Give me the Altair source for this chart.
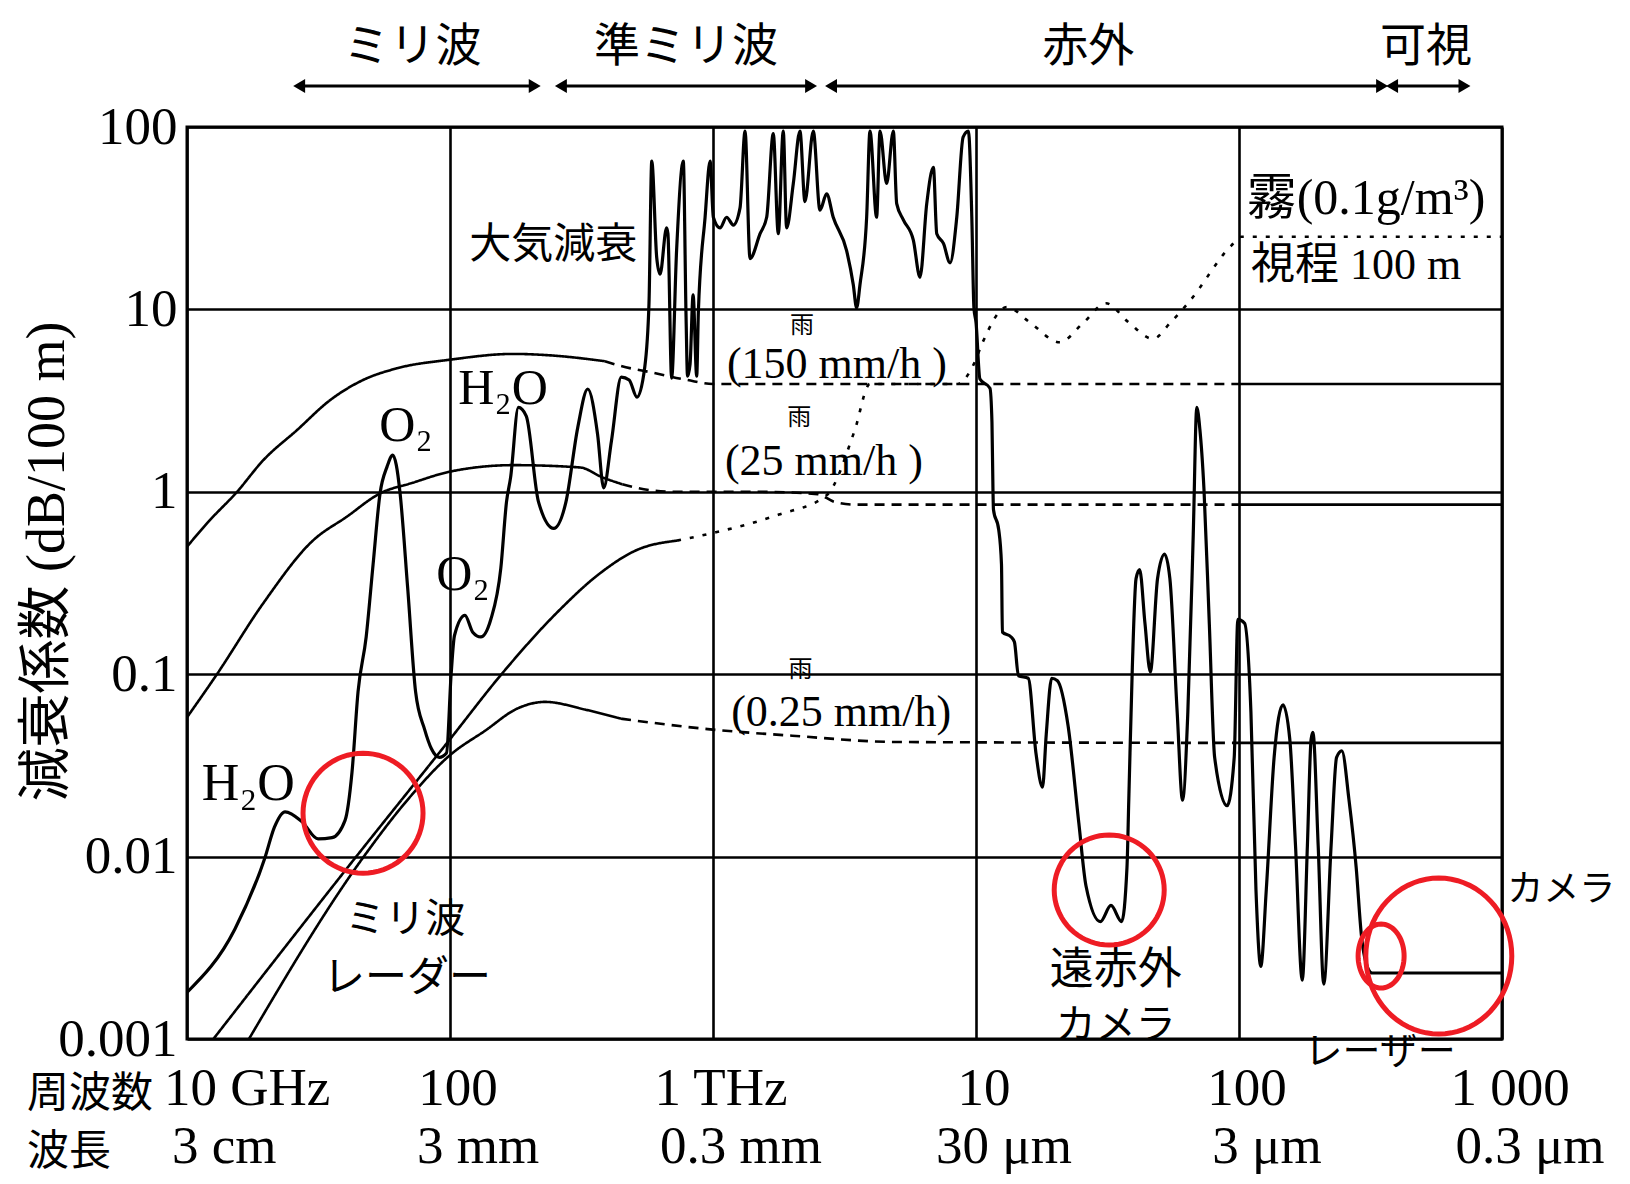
import math
import altair as alt
import pandas as pd

# ---------------- data: frequency (GHz) and attenuation (dB/100 m) ----------------
atm_f = [10, 15.2, 19.8, 21.5, 23.6, 27.4, 31.5, 35.6, 39.9, 42.4, 44.7, 48, 51, 54.2, 57.6, 60.6,
         62.5, 64.6, 69, 74, 80, 85, 91, 97, 101, 104, 114, 122, 131, 143, 156, 164, 170, 182, 195,
         217, 248, 276, 306, 334, 364, 384, 411, 448, 480, 514, 550, 571, 585, 611, 629, 666, 674,
         696, 727, 771, 790, 800, 818, 840, 867, 880, 933, 975, 1003, 1063, 1127, 1195, 1267, 1324,
         1383, 1510, 1600, 1695, 1771, 1850, 1905, 2020, 2141, 2237, 2406, 2551, 2704, 2865, 3221,
         3414, 3516, 3622, 3839, 3952, 4189, 4315, 4573, 4849, 4994, 5294, 5777, 6124, 6497, 6887,
         7092, 7519, 7968, 8451, 8933, 9354, 9640, 9820, 10000, 10350, 11300, 11500, 11600, 11650,
         12200, 12500, 12600, 13600, 14000, 14500, 15800, 16900, 17900, 18500, 19400, 20400, 22400,
         24600, 26200, 29700, 32600, 35800, 37500, 38100, 39300, 40600, 41900, 43900, 46000, 49000,
         52100, 54600, 58200, 61000, 63900, 67000, 69100, 71000, 73600, 77100, 80800, 90100, 95900,
         99000, 105000, 111000, 116000, 121000, 127000, 136000, 147000, 156000, 164000, 174000,
         182000, 188000, 191000, 200000, 210000, 224000, 235000, 246000, 262000, 279000, 292000,
         311000, 321000, 1000000]
atm_v = [0.0018, 0.004, 0.0099, 0.0145, 0.0176, 0.0155, 0.0125, 0.0127, 0.0158, 0.029, 0.08, 0.16,
         0.4, 0.98, 1.37, 1.59, 1.4, 0.98, 0.3, 0.08, 0.05, 0.039, 0.035, 0.037, 0.1, 0.163, 0.21,
         0.17, 0.16, 0.2, 0.38, 0.88, 1.2, 2.9, 2.6, 0.88, 0.63, 0.88, 2.25, 3.66, 2.07, 1.05, 1.9,
         4.25, 4.1, 3.3, 4.8, 10.8, 65, 19.2, 15.6, 28, 26, 4.2, 21, 65, 9, 4.3, 5, 12, 4.3, 9.8, 32,
         65, 32, 28, 32, 29, 36, 95, 19, 26, 32, 92, 26, 95, 28, 49, 95, 39, 95, 35, 43, 32, 21, 13.7,
         10.2, 13.7, 32, 95, 32, 95, 49, 95, 38, 31, 24, 15, 38, 60, 26, 23, 18, 32, 88, 95, 32, 10.2,
         8.5, 4.15, 3.7, 2.4, 1.04, 0.8, 0.62, 0.4, 0.17, 0.16, 0.15, 0.098, 0.095, 0.037, 0.024,
         0.047, 0.095, 0.092, 0.052, 0.0153, 0.0069, 0.0044, 0.0054, 0.0044, 0.0087, 0.0204, 0.109,
         0.334, 0.374, 0.19, 0.103, 0.334, 0.456, 0.334, 0.062, 0.0204, 0.062, 0.586, 2.9, 2.2, 1.03,
         0.19, 0.035, 0.019, 0.035, 0.2, 0.19, 0.062, 0.0066, 0.0025, 0.0066, 0.035, 0.068, 0.044,
         0.0115, 0.0021, 0.0115, 0.044, 0.048, 0.0115, 0.002, 0.0115, 0.035, 0.038, 0.0204, 0.0087,
         0.0037, 0.0024, 0.0023, 0.0023]

rain150_f = [10, 12, 15.5, 19.5, 26.2, 35, 46.7, 62.7, 100, 174, 240, 388, 445, 590, 800, 1000, 1e5, 1e6]
rain150_v = [0.5, 0.68, 1.0, 1.49, 2.18, 3.18, 4.1, 4.75, 5.3, 5.7, 5.6, 5.2, 4.9, 4.5, 4.1, 3.9, 3.9, 3.9]

rain25_f = [10, 13, 19.5, 30.1, 40.5, 54.2, 72, 100, 174, 312, 380, 452, 515, 700, 1500, 2500, 2900, 3500, 1e5, 1e6]
rain25_v = [0.058, 0.1, 0.245, 0.54, 0.73, 0.98, 1.12, 1.29, 1.4, 1.36, 1.2, 1.1, 1.05, 1.0, 1.0, 0.97, 0.88, 0.85, 0.85, 0.85]

rain025_f = [17.2, 47, 70, 100, 136, 181, 230, 326, 447, 955, 2000, 5000, 1e5, 1e6]
rain025_v = [0.001, 0.01, 0.021, 0.036, 0.049, 0.065, 0.0705, 0.064, 0.057, 0.05, 0.046, 0.0425, 0.042, 0.042]

fog_f = [12.6, 44, 100, 157, 257, 365, 514, 730, 1026, 1780, 2710, 3450, 3950, 8500, 9800, 10600,
         13100, 16000, 20800, 25500, 31200, 38000, 47100, 55000, 64600, 93300, 102000, 1e6]
fog_v = [0.001, 0.01, 0.044, 0.1, 0.22, 0.35, 0.48, 0.54, 0.6, 0.75, 0.96, 2.15, 3.9, 3.9, 5.0, 6.6,
         10.3, 8.5, 6.6, 8.4, 10.8, 8.5, 6.9, 8.5, 11, 22.3, 25, 25]

freq_ticks = [10, 100, 1000, 1e4, 1e5, 1e6]
att_ticks = [0.001, 0.01, 0.1, 1, 10, 100]
freq_labels = ["10 GHz", "100", "1 THz", "10", "100", "1 000"]
wave_labels = ["3 cm", "3 mm", "0.3 mm", "30 μm", "3 μm", "0.3 μm"]

band_names = ["ミリ波", "準ミリ波", "赤外", "可視"]
band_start = [26.7, 264, 2810, 3.82e5]
band_end = [210, 2360, 3.5e5, 7.2e5]
band_center = [72, 789, 2.67e4, 5.14e5]

curve_texts = ["大気減衰", "H₂O", "O₂", "H₂O", "O₂", "雨", "(150 mm/h )", "雨", "(25 mm/h )",
               "雨", "(0.25 mm/h)", "霧(0.1g/m³)", "視程 100 m"]
curve_text_f = [247, 17.1, 68, 159, 112, 2180, 2960, 2130, 2640, 2150, 3070, 3.04e5, 2.79e5]
curve_text_v = [22.5, 0.025, 2.3, 3.67, 0.35, 8.1, 4.95, 2.55, 1.46, 0.106, 0.0612, 40.3, 17.3]
curve_text_fs = [42, 52, 50, 50, 50, 24, 44, 24, 44, 24, 44, 50, 44]

note_texts = ["ミリ波", "レーダー", "遠赤外", "カメラ", "カメラ", "レーザー"]
note_f = [67.6, 68.6, 3.4e4, 3.4e4, 1.68e6, 3.44e5]
note_v = [0.00449, 0.00216, 0.00236, 0.00118, 0.00656, 0.00084]
note_fs = [40, 42, 44, 40, 36, 38]

circle_f = [46.7, 3.21e4, 5.75e5, 3.47e5]
circle_v = [0.0173, 0.00656, 0.00285, 0.00285]
circle_rx = [60, 55, 73, 23]
circle_ry = [60, 55, 78, 32]

# ---------------- styling ----------------
SERIF = "Liberation Serif, DejaVu Serif, Noto Sans CJK JP, serif"
CJK = "Noto Sans CJK JP, sans-serif"
RED = "#ee1c24"
W, H = 1315, 912

XS = alt.Scale(type="log", domain=[10, 1e6])
YS = alt.Scale(type="log", domain=[0.001, 100])
xaxis = alt.Axis(values=freq_ticks, grid=True, labels=False, ticks=False, domain=False, title=None,
                 gridColor="black", gridWidth=2.6, gridOpacity=1)
yaxis = alt.Axis(values=att_ticks, format="~g", grid=True, ticks=False, domain=False,
                 gridColor="black", gridWidth=2.6, gridOpacity=1, labelOverlap=False,
                 labelFont=SERIF, labelFontSize=53, labelColor="black", labelPadding=10,
                 title="減衰係数 (dB/100 m)", titleFont=SERIF, titleFontSize=54,
                 titleFontWeight="normal", titleColor="black", titleAngle=-90,
                 titleX=-140, titleY=434, titleAlign="center", titleBaseline="middle")


def X():
    return alt.X("f:Q", scale=XS, axis=xaxis)


def Y():
    return alt.Y("v:Q", scale=YS, axis=yaxis)


# ---------------- build line table ----------------
def segments(name, fs, vs, cuts, styles):
    rows = []
    bounds = [fs[0]] + cuts + [fs[-1]]
    for k in range(len(bounds) - 1):
        lo, hi = bounds[k], bounds[k + 1]
        for i, (f, v) in enumerate(zip(fs, vs)):
            if lo <= f <= hi:
                rows.append(dict(seg=f"{name}{k}", style=styles[k], f=f, v=v, o=i))
    return rows


rows = []
rows += segments("r150", rain150_f, rain150_v, [388, 1e5], ["solid", "dash", "solid"])
rows += segments("r25", rain25_f, rain25_v, [452, 1e5], ["solid", "dash", "solid"])
rows += segments("r025", rain025_f, rain025_v, [447, 1e5], ["solid", "dash", "solid"])
rows += segments("fog", fog_f, fog_v, [730], ["solid", "dot"])
other_df = pd.DataFrame(rows)
atm_df = pd.DataFrame({"f": atm_f, "v": atm_v, "o": list(range(len(atm_f)))})

others = alt.Chart(other_df).mark_line(color="black", strokeWidth=2.6, interpolate="monotone", clip=True).encode(
    x=X(), y=Y(), detail="seg:N", order="o:Q",
    strokeDash=alt.StrokeDash("style:N", legend=None,
                              scale=alt.Scale(domain=["solid", "dash", "dot"],
                                              range=[[1, 0], [10, 7], [4, 9]])))

atm = alt.Chart(atm_df).mark_line(color="black", strokeWidth=3.2, interpolate="monotone", clip=True).encode(
    x=X(), y=Y(), order="o:Q")

# curve labels
ct_df = pd.DataFrame({"text": curve_texts, "f": curve_text_f, "v": curve_text_v, "fs": curve_text_fs})
curve_labels = alt.Chart(ct_df).mark_text(font=SERIF, color="black", align="center", baseline="middle").encode(
    x=X(), y=Y(), text="text:N", size=alt.Size("fs:Q", scale=None, legend=None))

# red annotations
nt_df = pd.DataFrame({"text": note_texts, "f": note_f, "v": note_v, "fs": note_fs})
notes = alt.Chart(nt_df).mark_text(font=CJK, color="black", align="center", baseline="middle").encode(
    x=X(), y=Y(), text="text:N", size=alt.Size("fs:Q", scale=None, legend=None))


def ellipse_path(rx, ry, n=72):
    m = max(rx, ry)
    pts = [(rx / m * math.cos(2 * math.pi * k / n), ry / m * math.sin(2 * math.pi * k / n)) for k in range(n)]
    return "M" + " L".join(f"{a:.4f},{b:.4f}" for a, b in pts) + " Z"


circle_layers = []
for cf, cv, rx, ry in zip(circle_f, circle_v, circle_rx, circle_ry):
    cdf = pd.DataFrame({"f": [cf], "v": [cv]})
    circle_layers.append(
        alt.Chart(cdf).mark_point(shape=ellipse_path(rx, ry), size=(2 * max(rx, ry)) ** 2,
                                  filled=False, stroke=RED, strokeWidth=5, opacity=1).encode(x=X(), y=Y()))

# band arrows and names
band_df = pd.DataFrame({"name": band_names, "f0": band_start, "f1": band_end, "fc": band_center})
ARROW_Y = -41
band_rule = alt.Chart(band_df).mark_rule(color="black", strokeWidth=3.2).encode(
    x=alt.X("f0:Q", scale=XS, axis=xaxis), x2="f1:Q", y=alt.value(ARROW_Y))
band_left = alt.Chart(band_df).mark_point(shape="triangle-left", filled=True, color="black", size=190, opacity=1).encode(
    x=alt.X("f0:Q", scale=XS, axis=xaxis), y=alt.value(ARROW_Y))
band_right = alt.Chart(band_df).mark_point(shape="triangle-right", filled=True, color="black", size=190, opacity=1).encode(
    x=alt.X("f1:Q", scale=XS, axis=xaxis), y=alt.value(ARROW_Y))
band_text = alt.Chart(band_df).mark_text(font=CJK, fontSize=46, color="black", align="center", baseline="middle").encode(
    x=alt.X("fc:Q", scale=XS, axis=xaxis), y=alt.value(-80), text="name:N")

# bottom frequency / wavelength rows
tick_df = pd.DataFrame({"f": freq_ticks, "fl": freq_labels, "wl": wave_labels})
rest = tick_df.iloc[1:]
first = tick_df.iloc[:1]
ROW1, ROW2 = H + 66, H + 124
row1 = alt.Chart(rest).mark_text(font=SERIF, fontSize=53, color="black", align="center", baseline="alphabetic", dx=8).encode(
    x=X(), y=alt.value(ROW1), text="fl:N")
row2 = alt.Chart(rest).mark_text(font=SERIF, fontSize=53, color="black", align="center", baseline="alphabetic", dx=28).encode(
    x=X(), y=alt.value(ROW2), text="wl:N")
row1a = alt.Chart(first).mark_text(font=SERIF, fontSize=53, color="black", align="left", baseline="alphabetic", dx=-23).encode(
    x=X(), y=alt.value(ROW1), text="fl:N")
row2a = alt.Chart(first).mark_text(font=SERIF, fontSize=53, color="black", align="left", baseline="alphabetic", dx=-15).encode(
    x=X(), y=alt.value(ROW2), text="wl:N")
row_titles = pd.DataFrame({"f": [10, 10], "t": ["周波数", "波長"]})
rt1 = alt.Chart(row_titles.iloc[:1]).mark_text(font=CJK, fontSize=42, color="black", align="left", baseline="alphabetic", dx=-160, dy=2).encode(
    x=X(), y=alt.value(ROW1), text="t:N")
rt2 = alt.Chart(row_titles.iloc[1:]).mark_text(font=CJK, fontSize=42, color="black", align="left", baseline="alphabetic", dx=-160, dy=2).encode(
    x=X(), y=alt.value(ROW2), text="t:N")

chart = alt.layer(
    others, atm, curve_labels, notes, *circle_layers,
    band_rule, band_left, band_right, band_text,
    row1, row2, row1a, row2a, rt1, rt2
).properties(
    width=W, height=H,
    autosize=alt.AutoSizeParams(type="none"),
    padding={"left": 179, "top": 119, "right": 118, "bottom": 137},
    background="white",
).configure_view(stroke="black", strokeWidth=3)

chart.save("out.html", embed_options={"renderer": "svg", "actions": False})
